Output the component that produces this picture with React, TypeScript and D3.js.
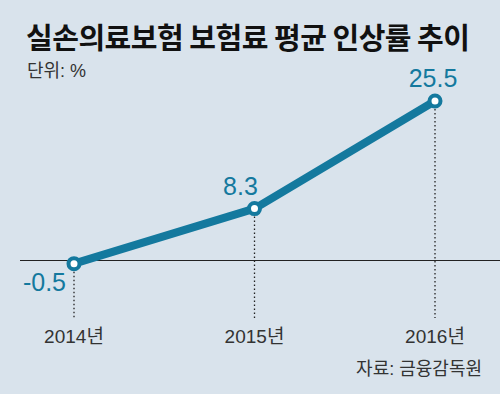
import React from "react";
import { scaleLinear, scalePoint, line } from "d3";

const years = ["2014", "2015", "2016"];
const rates = [-0.5, 8.3, 25.5];
const rateLabels = ["-0.5", "8.3", "25.5"];

const title = "실손의료보험 보험료 평균 인상률 추이";
const unit = "단위: %";
const source = "자료: 금융감독원";

const W = 500;
const H = 394;
const blue = "#14799e";
const kr = "'Noto Sans CJK KR', 'Noto Sans', sans-serif";
const num = "'Liberation Sans', 'Noto Sans CJK KR', sans-serif";

export default function App() {
  const x = scalePoint<string>().domain(years).range([74, 435]);
  const y = scaleLinear().domain([0, 25.5]).range([260.5, 101]);

  const path = line<number>()
    .x((_, i) => x(years[i])!)
    .y((d) => y(d))(rates);

  // label offsets: first one sits below-left, others above
  const labelDx = [-8, -14, -2];

  return (
    <svg
      width={W}
      height={H}
      style={{ position: "absolute", left: 0, top: 0 }}
    >
      <rect width={W} height={H} fill="#d9e3ec" />
      <text x={26} y={49} fontFamily={kr} fontWeight={700} fontSize={29} fill="#111" textLength={444}>
        {title}
      </text>
      <text x={27} y={77} fontFamily={num} fontSize={18} fill="#333">
        {unit}
      </text>

      {/* zero line */}
      <line x1={20} x2={W} y1={y(0)} y2={y(0)} stroke="#222" strokeWidth={1.2} />

      {/* dotted drop lines */}
      {years.map((yr, i) => (
        <line
          key={`drop-${yr}`}
          x1={x(yr)}
          x2={x(yr)}
          y1={y(rates[i])}
          y2={318}
          stroke="#222"
          strokeWidth={1.3}
          strokeDasharray="1.5 2.5"
        />
      ))}

      <path d={path ?? ""} fill="none" stroke={blue} strokeWidth={8} strokeLinejoin="round" />

      {years.map((yr, i) => (
        <circle
          key={`pt-${yr}`}
          cx={x(yr)}
          cy={y(rates[i])}
          r={5.5}
          fill="#fff"
          stroke={blue}
          strokeWidth={4}
        />
      ))}

      {/* value labels */}
      {years.map((yr, i) => {
        const first = i === 0;
        return (
          <text
            key={`val-${yr}`}
            x={x(yr)! + labelDx[i]}
            y={first ? y(rates[i]) + 27 : y(rates[i]) - 14}
            textAnchor={first ? "end" : "middle"}
            fontFamily={num}
            fontSize={25}
            fill={blue}
          >
            {rateLabels[i]}
          </text>
        );
      })}

      {/* year labels */}
      {years.map((yr) => (
        <text
          key={`yr-${yr}`}
          x={x(yr)}
          y={343}
          textAnchor="middle"
          fontFamily={num}
          fontSize={19}
          fill="#333"
        >
          {yr}년
        </text>
      ))}

      <text x={482} y={375} textAnchor="end" fontFamily={num} fontSize={18} fill="#333">
        {source}
      </text>
    </svg>
  );
}
